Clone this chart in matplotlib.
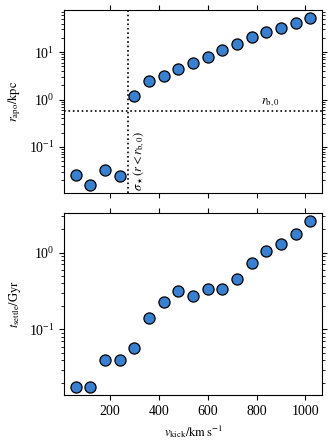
import matplotlib
matplotlib.use("Agg")
import matplotlib.pyplot as plt

plt.rcParams['font.family'] = ['Liberation Serif', 'DejaVu Serif']
plt.rcParams['mathtext.fontset'] = 'stix'

v_kick = [60, 120, 180, 240, 300, 360, 420, 480, 540, 600, 660, 720, 780, 840, 900, 960, 1020]
r_apo = [0.026, 0.016, 0.032, 0.024, 1.2, 2.4, 3.2, 4.5, 6.0, 8.0, 10.9, 14.8, 20.4, 26.0, 32.7, 41.0, 51.6]
t_settle = [0.018, 0.018, 0.040, 0.040, 0.058, 0.142, 0.228, 0.316, 0.273, 0.331, 0.336, 0.459, 0.741, 1.05, 1.28, 1.73, 2.55]
r_b0 = 0.585
v_sigma = 272
x_ticks = [200, 400, 600, 800, 1000]

fig = plt.figure(figsize=(3.32, 4.43), dpi=100)
ax1 = fig.add_axes([64/332, 1-193/443, 258/332, 183/443])
ax2 = fig.add_axes([64/332, 1-395/443, 258/332, 182/443], sharex=ax1)

mk = dict(marker='o', ls='none', ms=8.0, mfc='#3a80d0', mec='black', mew=0.9, zorder=3)

ax1.plot(v_kick, r_apo, **mk)
ax1.set_yscale('log')
ax1.axhline(r_b0, color='black', ls=':', lw=1.2)
ax1.axvline(v_sigma, color='black', ls=':', lw=1.2)
ax1.text(855, r_b0*1.06, r'$r_{\rm b,0}$', fontsize=9, ha='center', va='bottom')
ax1.text(v_sigma + 14, 0.0118, r'$\sigma_\star(r<r_{\rm b,0})$', fontsize=9,
         rotation=90, ha='left', va='bottom')
ax1.set_ylabel(r'$r_{\rm apo}/{\rm kpc}$', fontsize=9)

ax2.plot(v_kick, t_settle, **mk)
ax2.set_yscale('log')
ax2.set_ylabel(r'$t_{\rm settle}/{\rm Gyr}$', fontsize=9)
ax2.set_xlabel(r'$v_{\rm kick}/{\rm km\,s^{-1}}$', fontsize=9)
ax2.set_xticks(x_ticks)

for ax in (ax1, ax2):
    ax.tick_params(which='both', top=True, right=True, labelsize=10)
ax1.tick_params(labelbottom=False)

fig.savefig('out.png', dpi=100)
